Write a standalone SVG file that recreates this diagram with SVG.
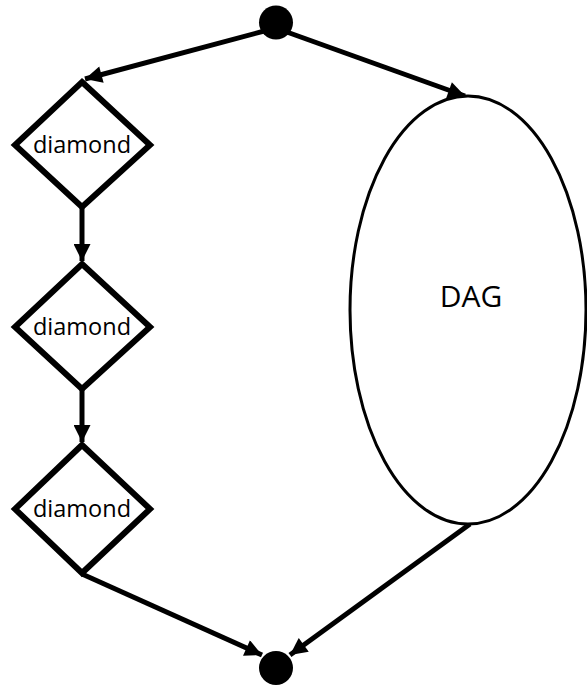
<svg xmlns="http://www.w3.org/2000/svg" width="587" height="686" viewBox="0 0 587 686">
<style>
.dm{fill:#fff;stroke:#000;stroke-width:6;stroke-linejoin:miter}
.lbl{font-family:"Open Sans","Liberation Sans",sans-serif;font-size:23.5px;fill:#000;text-anchor:middle}
.edge{stroke:#000;stroke-width:5;fill:none}
</style>
<defs>
<marker id="ah" viewBox="0 0 10 10" refX="10" refY="5" markerWidth="3.6" markerHeight="3.4" markerUnits="strokeWidth" orient="auto">
<path d="M0,0 L10,5 L0,10 z" fill="#000"/>
</marker>
</defs>
<g id="connectors">
<line class="edge" x1="268" y1="30" x2="85" y2="79" marker-end="url(#ah)"/>
<line class="edge" x1="284" y1="31" x2="465" y2="96" marker-end="url(#ah)"/>
<line class="edge" x1="82" y1="207" x2="82" y2="261" marker-end="url(#ah)"/>
<line class="edge" x1="82" y1="390" x2="82" y2="442" marker-end="url(#ah)"/>
<line class="edge" x1="82" y1="574" x2="262" y2="655" marker-end="url(#ah)"/>
<line class="edge" x1="470" y1="524" x2="290" y2="655" marker-end="url(#ah)"/>
</g>
<g id="start"><circle cx="276" cy="22.5" r="17" fill="#000"/></g>
<g id="end"><circle cx="276" cy="668" r="17" fill="#000"/></g>
<g id="diamond1">
<polygon class="dm" points="82,82 150,145 82,207 15,145"/>
<text class="lbl" x="82" y="153">diamond</text>
</g>
<g id="diamond2">
<polygon class="dm" points="82,264 150,327 82,389 15,327"/>
<text class="lbl" x="82" y="335">diamond</text>
</g>
<g id="diamond3">
<polygon class="dm" points="82,445 150,509 82,573 15,509"/>
<text class="lbl" x="82" y="517">diamond</text>
</g>
<g id="dag">
<ellipse cx="468" cy="310" rx="118" ry="214" fill="#fff" stroke="#000" stroke-width="3"/>
<text class="lbl" x="471" y="307" style="font-size:30px">DAG</text>
</g>
</svg>
